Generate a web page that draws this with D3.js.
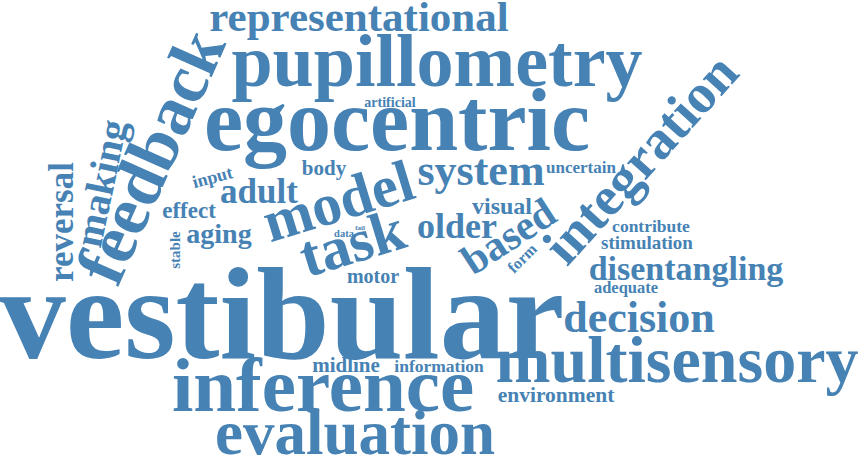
<!DOCTYPE html>
<html>
<head>
<meta charset="utf-8">
<script src="https://cdn.jsdelivr.net/npm/d3@7"></script>
<style>
  body { margin: 0; background: #fff; }
</style>
</head>
<body>
<div id="chart"></div>
<script>
// word list and relative weights
var words = ["vestibular", "egocentric", "pupillometry", "representational", "multisensory",
    "inference", "evaluation", "decision", "disentangling", "system", "older", "adult",
    "visual", "uncertain", "artificial", "body", "effect", "aging", "data", "fail", "motor",
    "midline", "information", "environment", "adequate", "stimulation", "contribute",
    "integration", "feedback", "making", "reversal", "model", "task", "based", "form",
    "input", "stable"];
var weights = [132, 88, 74, 43, 66,
    77, 63, 44, 34, 44, 36, 35,
    24, 17, 14, 21, 23, 28, 10.5, 7, 20,
    21, 17.5, 21.5, 16.5, 19, 17.5,
    55, 70, 40, 35, 59, 60, 42, 16,
    18, 15];
// cloud layout (word centre on baseline) and rotation
var layoutX = [282, 397, 437, 359, 677,
    323, 355, 639, 686, 481, 457, 259,
    502, 581, 390, 324, 189, 219, 344, 360, 373,
    346, 439, 556, 626, 647, 651,
    654, 172, 114, 73, 344, 358, 516, 526,
    214, 180];
var layoutY = [358, 150, 86, 31, 382,
    411, 454, 332, 280, 185, 238, 203,
    214, 173, 107, 175, 218, 243, 237, 230, 283,
    372, 372, 402, 293, 249, 232,
    171, 166, 186, 222, 220, 262, 248, 262,
    183, 250];
var angles = [0, 0, 0, 0, 0,
    0, 0, 0, 0, 0, 0, 0,
    0, 0, 0, 0, 0, 0, 0, 0, 0,
    0, 0, 0, 0, 0, 0,
    -48, -66, -78, -90, -17, -17, -33, -45,
    -15, -90];

var width = 864, height = 460;

var svg = d3.select("#chart")
    .append("svg")
    .attr("width", width)
    .attr("height", height);

var fontScale = d3.scaleLinear()
    .domain([0, d3.max(weights)])
    .range([0, 132]);
var xScale = d3.scaleLinear().domain([0, 864]).range([0, width]);
var yScale = d3.scaleLinear().domain([0, 460]).range([0, height]);

svg.append("g")
    .selectAll("text")
    .data(d3.range(words.length))
    .enter()
    .append("text")
    .attr("text-anchor", "middle")
    .attr("transform", function (i) {
        return "translate(" + xScale(layoutX[i]) + "," + yScale(layoutY[i]) + ")rotate(" + angles[i] + ")";
    })
    .style("font-family", "'Liberation Serif', serif")
    .style("font-weight", "bold")
    .style("font-size", function (i) { return fontScale(weights[i]) + "px"; })
    .style("fill", "steelblue")
    .text(function (i) { return words[i]; });
</script>
</body>
</html>
